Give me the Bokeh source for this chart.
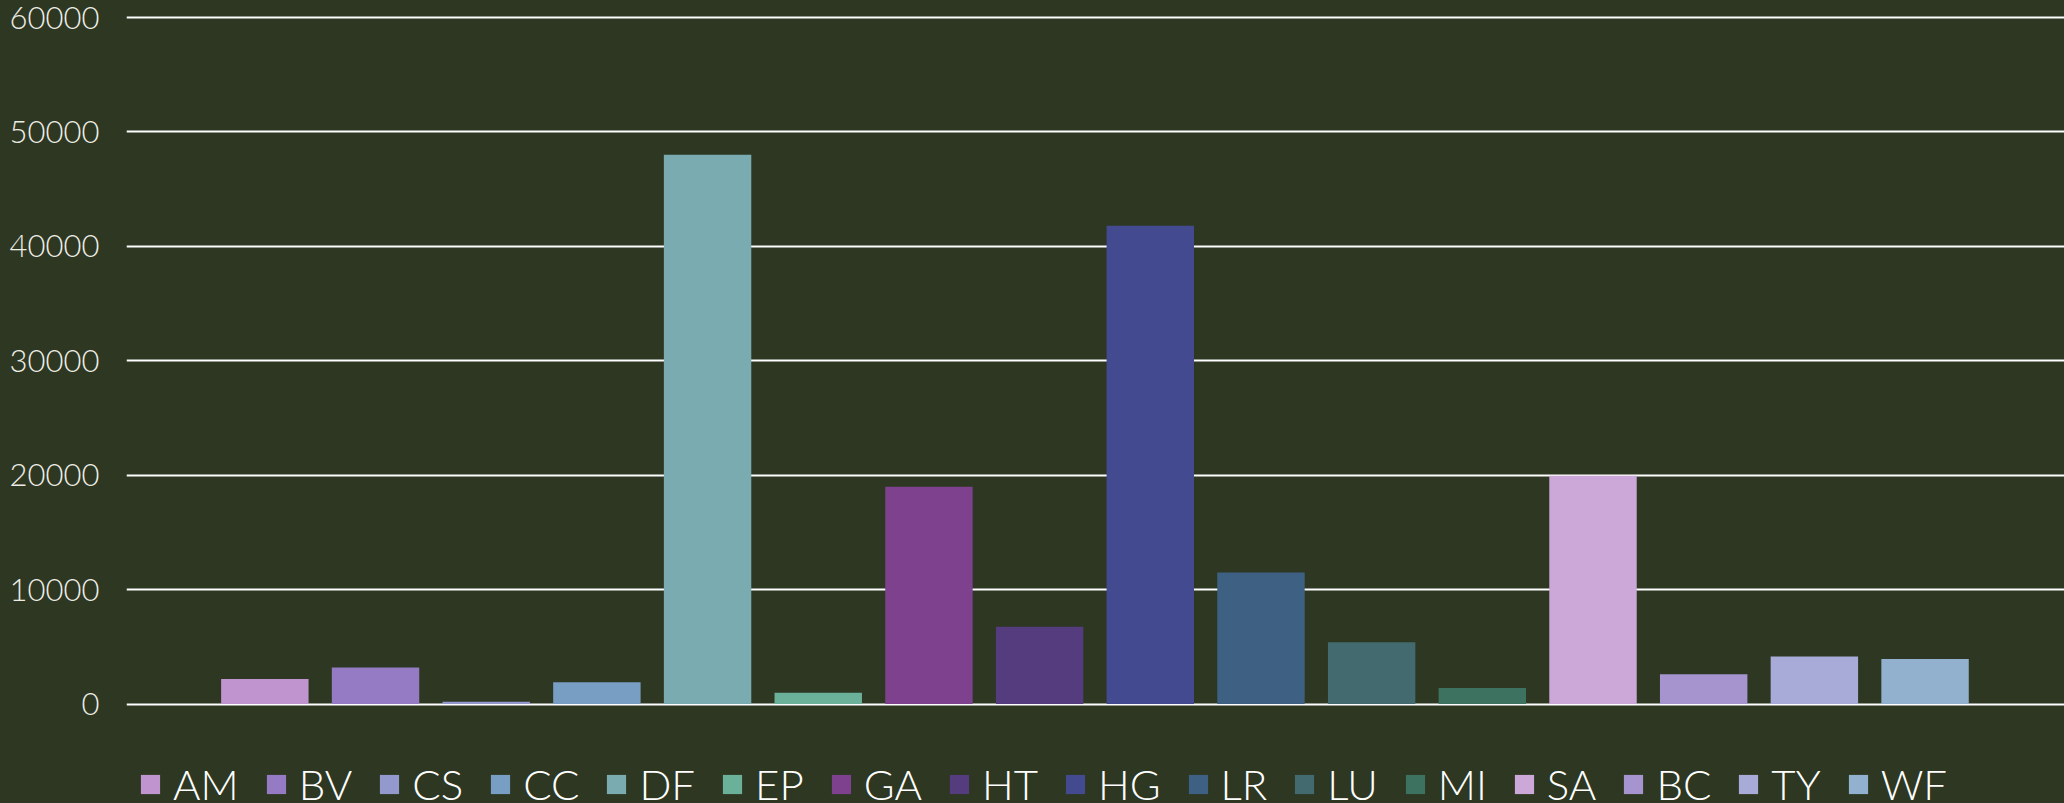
from bokeh.plotting import figure
from bokeh.models import ColumnDataSource, Range1d, FixedTicker, Legend, LegendItem
from bokeh.embed import file_html
from bokeh.resources import INLINE

categories = ["AM", "BV", "CS", "CC", "DF", "EP", "GA", "HT", "HG", "LR", "LU", "MI", "SA", "BC", "TY", "WF"]
values = [2200, 3200, 200, 1900, 48000, 1000, 19000, 6750, 41800, 11500, 5400, 1400, 19950, 2600, 4150, 3950]
colors = ["#C094CE", "#947BC3", "#9398CD", "#789FC3", "#79ABB0", "#6BB19A", "#7D418E", "#553C7E",
          "#434A90", "#3D6083", "#436B6F", "#3C725F", "#CBA8D7", "#A694CE", "#A8ABD7", "#92B1CE"]
y_ticks = [0, 10000, 20000, 30000, 40000, 50000, 60000]

BG = "#2D3722"
FONT = "Lato Light"

W, H = 2064, 803
frame_left = 126
top_grid_px = 17
step_px = 110.68
x_start = -1.25
x_end = x_start + (W - frame_left) / step_px
px_per_10k = 114.43
y_end = 60000 + top_grid_px / px_per_10k * 10000
y_start = -(H - (top_grid_px + 6 * px_per_10k)) / px_per_10k * 10000

p = figure(width=W, height=H, output_backend="svg", toolbar_location=None,
           x_range=Range1d(x_start, x_end), y_range=Range1d(y_start, y_end),
           min_border_left=frame_left, min_border_right=0, min_border_top=0, min_border_bottom=0,
           styles={"background-color": BG})
p.background_fill_color = None
p.border_fill_color = None
p.outline_line_color = None

items = []
for i, (cat, val, col) in enumerate(zip(categories, values, colors)):
    src = ColumnDataSource(dict(x=[i], top=[val]))
    r = p.vbar(x="x", top="top", bottom=0, width=0.79, source=src,
               fill_color=col, line_color=None)
    items.append(LegendItem(label=cat, renderers=[r]))

p.xaxis.visible = False
p.xgrid.visible = False
p.yaxis.ticker = FixedTicker(ticks=y_ticks)
p.yaxis.axis_line_color = None
p.yaxis.major_tick_line_color = None
p.yaxis.minor_tick_line_color = None
p.yaxis.major_tick_out = 0
p.yaxis.major_label_standoff = 27
p.yaxis.major_label_text_font = FONT
p.yaxis.major_label_text_font_size = "31px"
p.yaxis.major_label_text_color = "#EDEDE6"
p.ygrid.ticker = FixedTicker(ticks=y_ticks)
p.ygrid.grid_line_color = "#FFFFFF"
p.ygrid.grid_line_width = 2

legend = Legend(items=items, orientation="horizontal", location=(12, -6),
                background_fill_alpha=0, border_line_color=None,
                label_text_font=FONT, label_text_font_size="42px", label_text_color="#FFFFFF",
                glyph_width=24, glyph_height=24, label_standoff=11, spacing=25,
                padding=0, margin=0)
p.add_layout(legend)

open("out.html", "w").write(file_html(p, INLINE))
